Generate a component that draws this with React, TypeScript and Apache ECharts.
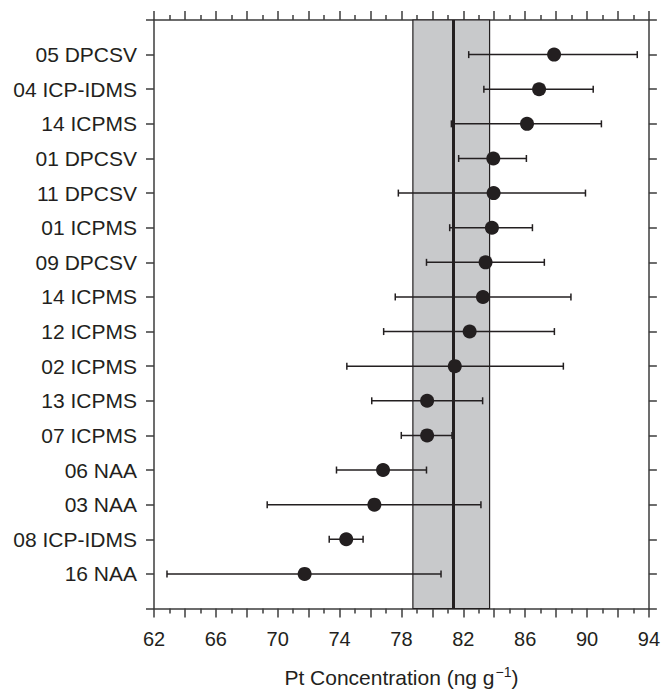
import React, { useEffect, useRef } from "react";
import * as echarts from "echarts";

const labels = [
  "05 DPCSV", "04 ICP-IDMS", "14 ICPMS", "01 DPCSV", "11 DPCSV", "01 ICPMS",
  "09 DPCSV", "14 ICPMS", "12 ICPMS", "02 ICPMS", "13 ICPMS", "07 ICPMS",
  "06 NAA", "03 NAA", "08 ICP-IDMS", "16 NAA",
];
const means = [87.87, 86.9, 86.12, 83.94, 83.96, 83.85, 83.44, 83.27, 82.41, 81.45, 79.66, 79.66, 76.81, 76.25, 74.43, 71.74];
const lows = [82.35, 83.33, 81.23, 81.7, 77.8, 81.12, 79.62, 77.6, 76.85, 74.47, 76.08, 77.99, 73.8, 69.32, 73.33, 62.84];
const highs = [93.25, 90.4, 90.93, 86.08, 89.9, 86.47, 87.24, 88.96, 87.89, 88.47, 83.25, 81.27, 79.62, 83.14, 75.52, 80.56];
const consensusMean = 81.32;
const bandLow = 78.74;
const bandHigh = 83.7;

const INK = "#231f20";
const AXIS = "#3d3d3d";
const FONT = "'Liberation Sans', Arial, Helvetica, sans-serif";

export default function App() {
  const ref = useRef<HTMLDivElement>(null);
  useEffect(() => {
    if (!ref.current) return;
    const chart = echarts.init(ref.current, undefined, { renderer: "svg" });
    const lineStyle = { color: AXIS, width: 1.5 };
    const xBase = {
      type: "value",
      min: 62,
      max: 94,
      interval: 2,
      splitLine: { show: false },
      axisLine: { show: true, onZero: false, lineStyle },
      axisTick: { show: true, length: 9, inside: false, lineStyle },
      minorTick: { show: true, splitNumber: 2, length: 5, lineStyle },
      minorSplitLine: { show: false },
    };
    const yBase = {
      type: "value",
      min: 0,
      max: 17,
      interval: 1,
      inverse: true,
      splitLine: { show: false },
      axisLine: { show: true, onZero: false, lineStyle },
      axisTick: { show: true, length: 8, inside: false, lineStyle },
    };
    const errData = labels.map((_, i) => [lows[i], highs[i], i + 1]);
    const dotData = labels.map((_, i) => [means[i], i + 1]);
    chart.setOption({
      animation: false,
      textStyle: { fontFamily: FONT },
      grid: { left: 154, right: 12, top: 20, bottom: 70 },
      xAxis: [
        {
          ...xBase,
          position: "bottom",
          axisLabel: {
            show: true,
            margin: 20,
            fontSize: 20,
            color: INK,
            fontFamily: FONT,
            formatter: (v: number) => ((v - 62) % 4 === 0 ? String(v) : ""),
          },
          name: "{a|Pt Concentration (ng g}{s|−1}{a|)}",
          nameLocation: "middle",
          nameGap: 56,
          nameTextStyle: {
            rich: {
              a: { fontSize: 21, color: INK, fontFamily: FONT },
              s: { fontSize: 14, color: INK, fontFamily: FONT, padding: [0, 0, 12, 1] },
            },
          },
        },
        { ...xBase, position: "top", axisLabel: { show: false } },
      ],
      yAxis: [
        {
          ...yBase,
          position: "left",
          axisLabel: {
            show: true,
            margin: 17,
            fontSize: 21,
            color: INK,
            fontFamily: FONT,
            formatter: (v: number) => (v >= 1 && v <= labels.length ? labels[v - 1] : ""),
          },
        },
        { ...yBase, position: "right", axisLabel: { show: false } },
      ],
      series: [
        {
          type: "scatter",
          data: [],
          z: 1,
          markArea: {
            silent: true,
            itemStyle: { color: "#c8c9cb", borderColor: INK, borderWidth: 1.2 },
            data: [[{ xAxis: bandLow }, { xAxis: bandHigh }]],
          },
          markLine: {
            silent: true,
            symbol: "none",
            label: { show: false },
            lineStyle: { type: "solid", width: 3, color: INK },
            data: [{ xAxis: consensusMean }],
          },
        },
        {
          type: "custom",
          z: 3,
          data: errData,
          encode: { x: [0, 1], y: 2 },
          renderItem: (params: any, api: any) => {
            const y = api.value(2);
            const lo = api.coord([api.value(0), y]);
            const hi = api.coord([api.value(1), y]);
            const h = 3.5;
            const st = { stroke: INK, lineWidth: 1.5 };
            return {
              type: "group",
              children: [
                { type: "line", shape: { x1: lo[0], y1: lo[1], x2: hi[0], y2: hi[1] }, style: st },
                { type: "line", shape: { x1: lo[0], y1: lo[1] - h, x2: lo[0], y2: lo[1] + h }, style: st },
                { type: "line", shape: { x1: hi[0], y1: hi[1] - h, x2: hi[0], y2: hi[1] + h }, style: st },
              ],
            };
          },
        },
        {
          type: "scatter",
          z: 4,
          data: dotData,
          symbol: "circle",
          symbolSize: 14,
          itemStyle: { color: INK, opacity: 1 },
        },
      ],
    });
    return () => chart.dispose();
  }, []);
  return (
    <div
      ref={ref}
      style={{ position: "fixed", left: 0, top: 0, width: 663, height: 693, background: "#fff" }}
    />
  );
}
